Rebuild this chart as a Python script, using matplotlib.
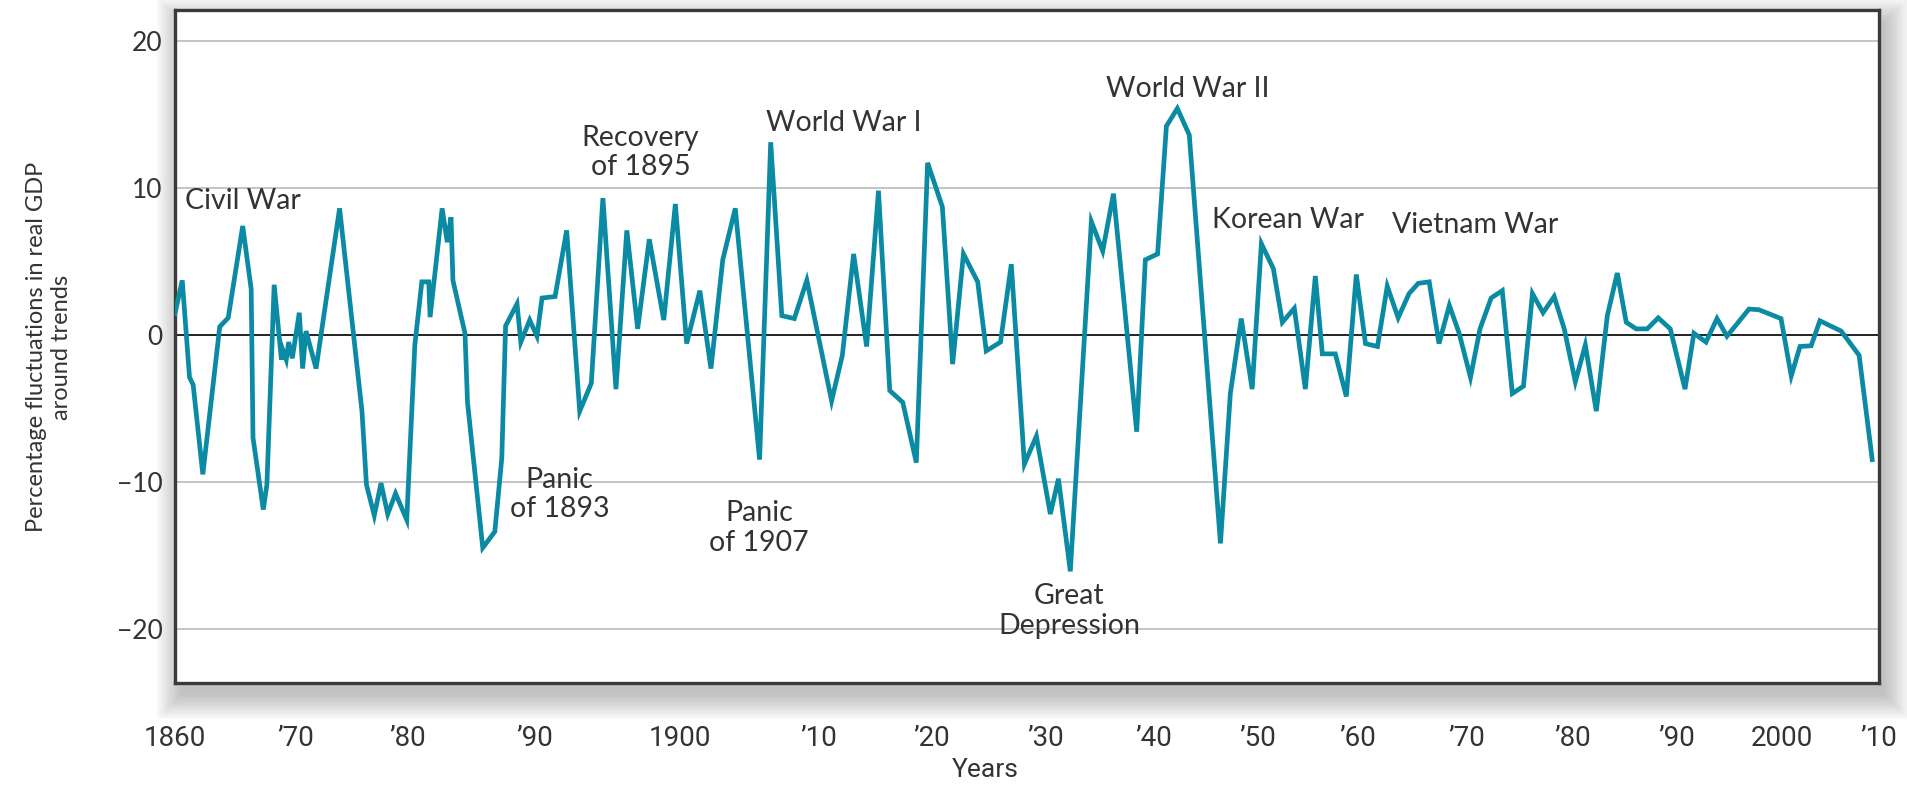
import numpy as np
import matplotlib
matplotlib.use("Agg")
import matplotlib.pyplot as plt
from matplotlib.patches import Rectangle

# ---------- DATA ----------
years = [1860.0, 1860.6, 1861.2, 1861.5, 1862.3, 1863.7, 1864.4, 1865.6, 1866.3, 1866.45,
         1867.3, 1867.6, 1868.2, 1868.8, 1868.9, 1869.2, 1869.4, 1869.7, 1870.3, 1870.6,
         1870.9, 1871.8, 1873.9, 1875.9, 1876.3, 1877.0, 1877.6, 1878.2, 1878.9, 1879.9,
         1880.55, 1881.1, 1881.65, 1881.75, 1882.7, 1883.1, 1883.4, 1883.55, 1884.5, 1884.7,
         1885.9, 1886.85, 1887.4, 1887.7, 1888.6, 1888.9, 1889.6, 1890.15, 1890.5, 1891.4,
         1892.2, 1893.1, 1893.9, 1894.7, 1895.6, 1896.35, 1897.1, 1897.9, 1898.9, 1899.7,
         1900.5, 1901.45, 1902.25, 1903.1, 1904.0, 1905.75, 1906.55, 1907.35, 1908.25, 1909.15,
         1911.15, 1912.1, 1913.1, 1914.25, 1915.3, 1916.3, 1917.45, 1918.65, 1919.65, 1920.95,
         1921.85, 1922.8, 1924.05, 1924.8, 1926.05, 1927.0, 1928.15, 1929.2, 1930.45, 1931.2,
         1932.3, 1934.25, 1935.3, 1936.3, 1938.45, 1939.25, 1940.4, 1941.25, 1942.3, 1943.45,
         1946.45, 1947.4, 1948.45, 1949.5, 1950.4, 1951.6, 1952.5, 1953.7, 1954.8, 1955.8,
         1956.5, 1957.8, 1958.9, 1959.9, 1960.75, 1961.85, 1962.75, 1963.75, 1964.75, 1965.6,
         1966.6, 1967.5, 1968.45, 1969.35, 1970.4, 1971.3, 1972.35, 1973.4, 1974.35, 1975.4,
         1976.25, 1977.25, 1978.3, 1979.25, 1980.3, 1981.25, 1982.3, 1983.35, 1984.3, 1985.15,
         1986.1, 1987.15, 1988.2, 1989.35, 1990.75, 1991.6, 1992.75, 1993.8, 1994.75, 1996.85,
         1997.8, 1999.9, 2000.95, 2001.85, 2003.0, 2003.9, 2006.1, 2007.95, 2009.3]

gdp_fluct = [1.45, 3.7, -2.9, -3.4, -9.5, 0.55, 1.15, 7.4, 3.1, -7.0,
             -11.9, -10.2, 3.4, -1.7, -1.0, -1.7, -0.5, -1.6, 1.5, -2.3,
             0.25, -2.3, 8.6, -5.2, -10.2, -12.3, -10.1, -12.2, -10.8, -12.6,
             -0.7, 3.6, 3.6, 1.2, 8.6, 6.3, 8.0, 3.7, 0.1, -4.6,
             -14.5, -13.4, -8.4, 0.6, 2.1, -0.5, 1.0, -0.1, 2.5, 2.6,
             7.1, -5.2, -3.3, 9.3, -3.7, 7.1, 0.4, 6.5, 1.0, 8.9,
             -0.6, 3.0, -2.3, 5.1, 8.6, -8.5, 13.1, 1.3, 1.1, 3.7,
             -4.5, -1.4, 5.5, -0.8, 9.8, -3.8, -4.6, -8.7, 11.7, 8.7,
             -2.0, 5.5, 3.6, -1.1, -0.5, 4.8, -8.8, -6.9, -12.2, -9.8,
             -16.1, 7.7, 5.7, 9.6, -6.6, 5.1, 5.5, 14.2, 15.4, 13.6,
             -14.2, -4.0, 1.1, -3.7, 6.2, 4.5, 0.85, 1.8, -3.7, 4.0,
             -1.3, -1.3, -4.2, 4.1, -0.6, -0.8, 3.3, 1.15, 2.8, 3.5,
             3.6, -0.6, 2.0, 0.1, -2.9, 0.4, 2.5, 3.0, -4.0, -3.5,
             2.8, 1.5, 2.6, 0.4, -3.2, -0.7, -5.2, 1.3, 4.2, 0.85,
             0.4, 0.4, 1.15, 0.4, -3.7, 0.1, -0.5, 1.1, -0.1, 1.75,
             1.7, 1.1, -2.8, -0.8, -0.75, 0.95, 0.25, -1.4, -8.5]

tick_years = [1860, 1870, 1880, 1890, 1900, 1910, 1920, 1930, 1940, 1950,
              1960, 1970, 1980, 1990, 2000, 2010]
tick_labels = ["1860", "\u201970", "\u201980", "\u201990", "1900", "\u201910", "\u201920",
               "\u201930", "\u201940", "\u201950", "\u201960", "\u201970", "\u201980",
               "\u201990", "2000", "\u201910"]

events = ["Civil War", "Recovery\nof 1895", "World War I", "Panic\nof 1893",
          "Panic\nof 1907", "Great\nDepression", "World War II", "Korean War", "Vietnam War"]
event_x = [1860.8, 1897.3, 1906.2, 1891.7, 1905.7, 1932.2, 1935.65, 1945.6, 1963.2]
event_y = [9.1, 12.4, 14.4, -10.9, -13.15, -18.8, 16.7, 7.8, 7.5]
event_ha = ["left", "center", "left", "center", "center", "center", "left", "left", "left"]

# the decade labels in the source are not evenly spaced -> piecewise axis
tick_pos = [175, 296, 408, 535, 680, 819, 932, 1046, 1154, 1258,
            1358, 1467, 1573, 1678, 1783, 1880]

def fwd(x):
    return np.interp(x, tick_years, tick_pos)

def inv(p):
    return np.interp(p, tick_pos, tick_years)

# ---------- FIGURE ----------
W, H = 1907, 785
fig = plt.figure(figsize=(W / 100, H / 100), dpi=100)
fig.patch.set_facecolor("white")

L, R, T, B = 175, 1879, 10, 683
ax = fig.add_axes([L / W, 1 - B / H, (R - L) / W, (B - T) / H])
ax.set_zorder(2)
ax.set_facecolor("white")

# soft drop shadow behind the frame
for s in range(0, 26, 2):
    fig.patches.append(Rectangle(((L + 6 - s) / W, (H - B - 12 - s) / H),
                                 (R - L + 2 * s) / W, (B - T + 2 * s) / H,
                                 transform=fig.transFigure, facecolor="#6a6a6a",
                                 edgecolor="none", alpha=0.035, zorder=-1))

ax.set_xscale("function", functions=(fwd, inv))
ax.plot(years, gdp_fluct, color="#0a8ba3", lw=3.4, solid_joinstyle="miter", zorder=3)

ax.set_xlim(1860, 2010)
ax.set_ylim(-23.7, 22.1)
ax.axhline(0, color="#222222", lw=1.4, zorder=2)
for g in [-20, -10, 10, 20]:
    ax.axhline(g, color="#b4b4b4", lw=1.1, zorder=1)

ax.set_xticks(tick_years)
ax.set_xticklabels(tick_labels, family="Roboto", fontsize=20, color="#333333")
ax.xaxis.set_minor_locator(plt.NullLocator())
ax.set_yticks([-20, -10, 0, 10, 20])
ax.set_yticklabels(["\u221220", "\u221210", "0", "10", "20"], family="Lato",
                   fontsize=19, color="#333333")
ax.tick_params(axis="x", length=0, pad=30)
ax.tick_params(axis="y", length=0, pad=9)

for sp in ax.spines.values():
    sp.set_color("#3a3a3a")
    sp.set_linewidth(2.4)

for txt, x, y, ha in zip(events, event_x, event_y, event_ha):
    ax.text(x, y, txt, ha=ha, va="center", fontsize=20.5, family="Lato",
            color="#333333", linespacing=1.15, zorder=4)

fig.text(49 / W, 1 - 347 / H, "Percentage fluctuations in real GDP\naround trends",
         rotation=90, ha="center", va="center", fontsize=17, family="Lato",
         color="#333333", linespacing=1.2)
fig.text(985 / W, 1 - 770 / H, "Years", ha="center", va="center", fontsize=19,
         family="Roboto", color="#333333")

fig.savefig("out.png", dpi=100)
